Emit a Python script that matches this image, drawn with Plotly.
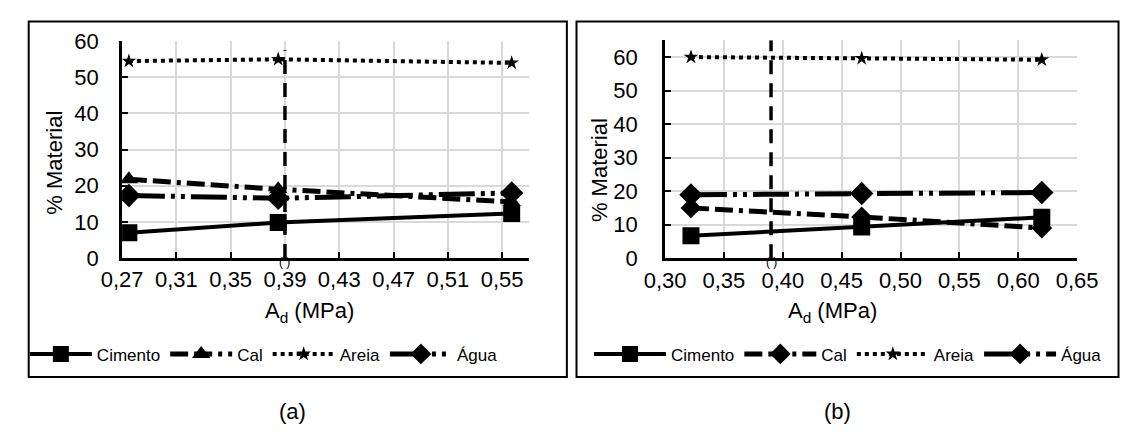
import plotly.graph_objects as go

# ---- data -------------------------------------------------------------
series_names = ["Cimento", "Cal", "Areia", "Água"]

# panel (a)
ad_a = [0.275, 0.385, 0.557]
cimento_a = [7.0, 9.8, 12.3]
cal_a = [21.8, 19.0, 15.5]
areia_a = [54.5, 55.0, 54.0]
agua_a = [17.3, 16.5, 18.0]
ref_x_a = [0.39, 0.39]
ref_y_a = [0, 57.5]

# panel (b)
ad_b = [0.322, 0.467, 0.620]
cimento_b = [6.7, 9.3, 12.2]
cal_b = [15.0, 12.3, 9.0]
areia_b = [60.0, 59.6, 59.2]
agua_b = [18.9, 19.3, 19.6]
ref_x_b = [0.39, 0.39]
ref_y_b = [0, 65]

# ---- layout helpers -----------------------------------------------------
W, H = 1127, 441
FONT = "Liberation Sans, Arial, sans-serif"


def px(x):
    return x / W


def py(y):
    return 1 - y / H


styles = {
    "Cimento": dict(dash="solid", width=4, symbol="square", size=17),
    "Cal": dict(dash="18px,6px,18px,6px,4px,6px", width=5, symbol="triangle-up", size=16),
    "Areia": dict(dash="4px,4px", width=4, symbol="star", size=11),
    "Água": dict(dash="36px,6px,4px,6px,4px,6px", width=5, symbol="diamond", size=18),
}
styles_b = dict(styles)
styles_b["Cal"] = dict(styles["Cal"], symbol="diamond", size=16)

fig = go.Figure()


def add_panel(xv, ys, st, xa, ya, legend, refx, refy):
    for name, yv in zip(series_names, ys):
        s = st[name]
        fig.add_trace(go.Scatter(
            x=xv, y=yv, name=name, mode="lines+markers",
            line=dict(color="black", width=s["width"], dash=s["dash"]),
            marker=dict(color="black", symbol=s["symbol"], size=s["size"]),
            xaxis=xa, yaxis=ya, legend=legend,
        ))
    fig.add_trace(go.Scatter(
        x=refx, y=refy, mode="lines", showlegend=False,
        line=dict(color="black", width=3.5, dash="14px,9px"),
        xaxis=xa, yaxis=ya,
    ))


add_panel(ad_a, [cimento_a, cal_a, areia_a, agua_a], styles, "x", "y", "legend",
          ref_x_a, ref_y_a)
add_panel(ad_b, [cimento_b, cal_b, areia_b, agua_b], styles_b, "x2", "y2", "legend2",
          ref_x_b, ref_y_b)

tickfont = dict(family=FONT, size=22, color="black")
common_axis = dict(
    showline=True, linewidth=3, linecolor="black",
    ticks="inside", ticklen=6, tickwidth=2, tickcolor="black",
    showgrid=True, gridcolor="#d9d9d9", gridwidth=1.5,
    zeroline=False, tickfont=tickfont, fixedrange=True,
)

legend_common = dict(
    orientation="h", yanchor="middle", y=py(363), xanchor="left",
    font=dict(family=FONT, size=17, color="black"),
    bgcolor="rgba(0,0,0,0)", itemwidth=62, tracegroupgap=0,
)

fig.update_layout(
    width=W, height=H,
    margin=dict(l=0, r=0, t=0, b=0),
    paper_bgcolor="white", plot_bgcolor="white",
    separators=",.",
    font=dict(family=FONT, color="black"),
    xaxis=dict(common_axis, domain=[px(105), px(528)], range=[0.27, 0.57],
               tick0=0.27, dtick=0.04, tickformat=".2f", anchor="y"),
    yaxis=dict(common_axis, domain=[py(260.7), py(31)], range=[0, 60],
               dtick=10, anchor="x", ticklabelstandoff=16),
    xaxis2=dict(common_axis, domain=[px(669), px(1097)], range=[0.30, 0.65],
                tick0=0.30, dtick=0.05, tickformat=".2f", anchor="y2"),
    yaxis2=dict(common_axis, domain=[py(261), py(30)], range=[0, 65],
                tickvals=[0, 10, 20, 30, 40, 50, 60], anchor="x2",
                ticklabelstandoff=20),
    legend=dict(legend_common, x=px(4)),
    legend2=dict(legend_common, x=px(590), itemwidth=72),
    showlegend=True,
)

# panel frames
fig.add_shape(type="rect", xref="paper", yref="paper",
              x0=px(8), x1=px(567), y0=py(387), y1=py(10),
              line=dict(color="black", width=2))
fig.add_shape(type="rect", xref="paper", yref="paper",
              x0=px(577), x1=px(1140), y0=py(387), y1=py(10),
              line=dict(color="black", width=2))

title_font = dict(family=FONT, size=22, color="black")
annots = [
    dict(text="% Material", x=px(35), y=py(160), textangle=-90),
    dict(text="% Material", x=px(601), y=py(168), textangle=-90),
    dict(text="A<sub>d</sub> (MPa)", x=px(300), y=py(318)),
    dict(text="A<sub>d</sub> (MPa)", x=px(843), y=py(318)),
    dict(text="(a)", x=px(282), y=py(423)),
    dict(text="(b)", x=px(848), y=py(423)),
]
for a in annots:
    fig.add_annotation(xref="paper", yref="paper", showarrow=False,
                       xanchor="center", yanchor="middle", font=title_font, **a)

# small bracket glyph where the reference line meets the x axis
for xa, ya in (("x", "y"), ("x2", "y2")):
    fig.add_annotation(x=0.39, y=0, xref=xa, yref=ya, text="( )", showarrow=False,
                       font=dict(family=FONT, size=12, color="black"),
                       yanchor="middle", yshift=-4)

fig.write_html("out.html")
